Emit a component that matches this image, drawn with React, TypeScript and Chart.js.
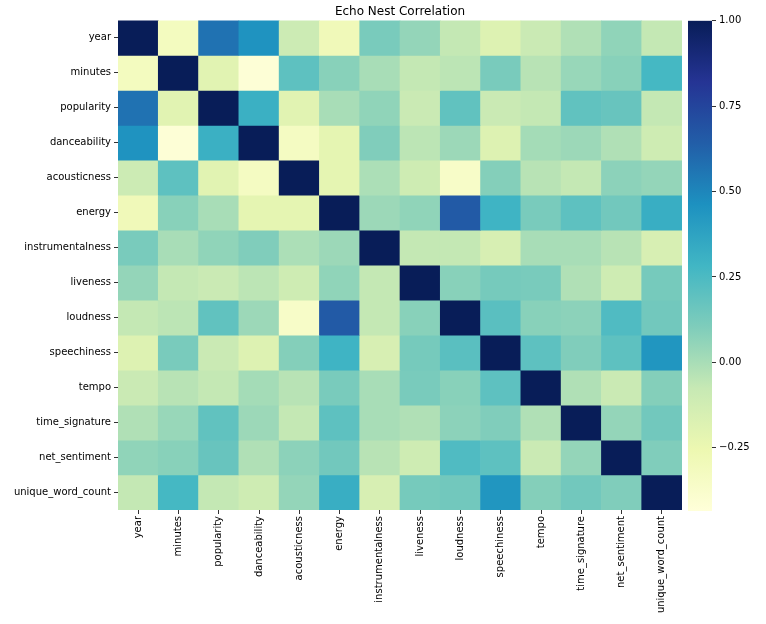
import React, { useEffect, useRef } from "react";
import { Chart, registerables } from "chart.js";
Chart.register(...registerables);

const chartTitle = "Echo Nest Correlation";
const labels = [
  "year", "minutes", "popularity", "danceability", "acousticness", "energy",
  "instrumentalness", "liveness", "loudness", "speechiness", "tempo",
  "time_signature", "net_sentiment", "unique_word_count",
];

const rowYear = [1.0, -0.32, 0.57, 0.45, -0.10, -0.29, 0.12, 0.05, -0.07, -0.18, -0.09, -0.02, 0.06, -0.07];
const rowMinutes = [-0.32, 1.0, -0.20, -0.42, 0.20, 0.08, 0.00, -0.07, -0.05, 0.12, -0.04, 0.04, 0.08, 0.27];
const rowPopularity = [0.57, -0.20, 1.0, 0.31, -0.20, 0.00, 0.06, -0.09, 0.19, -0.09, -0.07, 0.19, 0.17, -0.07];
const rowDanceability = [0.45, -0.42, 0.31, 1.0, -0.33, -0.22, 0.10, -0.05, 0.03, -0.18, 0.01, 0.03, -0.02, -0.11];
const rowAcousticness = [-0.10, 0.20, -0.20, -0.33, 1.0, -0.22, -0.01, -0.11, -0.36, 0.09, -0.04, -0.07, 0.07, 0.05];
const rowEnergy = [-0.29, 0.08, 0.00, -0.22, -0.22, 1.0, 0.03, 0.06, 0.66, 0.29, 0.12, 0.20, 0.14, 0.32];
const rowInstrumentalness = [0.12, 0.00, 0.06, 0.10, -0.01, 0.03, 1.0, -0.07, -0.07, -0.15, 0.00, 0.00, -0.04, -0.15];
const rowLiveness = [0.05, -0.07, -0.09, -0.05, -0.11, 0.06, -0.07, 1.0, 0.08, 0.13, 0.12, -0.02, -0.11, 0.13];
const rowLoudness = [-0.07, -0.05, 0.19, 0.03, -0.36, 0.66, -0.07, 0.08, 1.0, 0.21, 0.08, 0.07, 0.24, 0.14];
const rowSpeechiness = [-0.18, 0.12, -0.09, -0.18, 0.09, 0.29, -0.15, 0.13, 0.21, 1.0, 0.20, 0.10, 0.20, 0.44];
const rowTempo = [-0.09, -0.04, -0.07, 0.01, -0.04, 0.12, 0.00, 0.12, 0.08, 0.20, 1.0, -0.02, -0.09, 0.09];
const rowTimeSignature = [-0.02, 0.04, 0.19, 0.03, -0.07, 0.20, 0.00, -0.02, 0.07, 0.10, -0.02, 1.0, 0.05, 0.14];
const rowNetSentiment = [0.06, 0.08, 0.17, -0.02, 0.07, 0.14, -0.04, -0.11, 0.24, 0.20, -0.09, 0.05, 1.0, 0.10];
const rowUniqueWordCount = [-0.07, 0.27, -0.07, -0.11, 0.05, 0.32, -0.15, 0.13, 0.14, 0.44, 0.09, 0.14, 0.10, 1.0];

const matrix = [
  rowYear, rowMinutes, rowPopularity, rowDanceability, rowAcousticness, rowEnergy,
  rowInstrumentalness, rowLiveness, rowLoudness, rowSpeechiness, rowTempo,
  rowTimeSignature, rowNetSentiment, rowUniqueWordCount,
];

const vMin = -0.435;
const vMax = 1.0;
const colorbarRange = [vMin, vMax];
const colorbarTicks = [-0.25, 0, 0.25, 0.5, 0.75, 1.0];

const YLGNBU = ["#ffffd9", "#edf8b1", "#c7e9b4", "#7fcdbb", "#41b6c4", "#1d91c0", "#225ea8", "#253494", "#081d58"];

const FONT = "'DejaVu Sans', sans-serif";

function hexToRgb(h: string) {
  const n = parseInt(h.slice(1), 16);
  return [(n >> 16) & 255, (n >> 8) & 255, n & 255];
}

function cmap(v: number) {
  let t = (v - vMin) / (vMax - vMin);
  t = Math.max(0, Math.min(1, t));
  const pos = t * (YLGNBU.length - 1);
  const i = Math.min(Math.floor(pos), YLGNBU.length - 2);
  const f = pos - i;
  const a = hexToRgb(YLGNBU[i]);
  const b = hexToRgb(YLGNBU[i + 1]);
  const c = a.map((x, k) => Math.round(x + (b[k] - x) * f));
  return `rgb(${c[0]},${c[1]},${c[2]})`;
}

function fmtTick(v: number) {
  return v.toFixed(2).replace("-", "\u2212");
}

export default function App() {
  const heatRef = useRef<HTMLCanvasElement>(null);
  const barRef = useRef<HTMLCanvasElement>(null);

  useEffect(() => {
    document.body.style.margin = "0";
    const tickColor = "#333";
    const heat = new Chart(heatRef.current!, {
      type: "bar",
      data: {
        labels,
        datasets: matrix.map((row, j) => ({
          label: labels[j],
          data: row.map(() => 1),
          backgroundColor: row.map(cmap),
          borderWidth: 0,
          barPercentage: 1,
          categoryPercentage: 1,
        })),
      },
      options: {
        responsive: false,
        animation: false,
        layout: { padding: { left: 0, right: 8, top: 0, bottom: 0 } },
        plugins: {
          legend: { display: false },
          tooltip: { enabled: false },
          title: {
            display: true,
            text: chartTitle,
            color: "#000",
            fullSize: false,
            font: { family: FONT, size: 12, weight: "normal" },
            padding: { top: 5, bottom: 1 },
          },
        },
        scales: {
          x: {
            stacked: true,
            grid: { display: true, drawOnChartArea: false, drawTicks: true, tickLength: 4, offset: false, color: tickColor },
            border: { display: false },
            ticks: { minRotation: 90, maxRotation: 90, autoSkip: false, padding: 2, color: "#000", font: { family: FONT, size: 10 } },
            afterFit: (s: any) => { s.height = 114; },
          },
          y: {
            stacked: true,
            min: 0,
            max: labels.length,
            reverse: true,
            grid: { display: true, drawOnChartArea: false, drawTicks: true, tickLength: 4, color: tickColor },
            border: { display: false },
            afterBuildTicks: (s: any) => { s.ticks = labels.map((_, i) => ({ value: i + 0.5 })); },
            ticks: {
              autoSkip: false,
              padding: 3,
              color: "#000",
              font: { family: FONT, size: 10 },
              callback: (v: any) => labels[Math.floor(Number(v))],
            },
            afterFit: (s: any) => { s.width = 118; },
          },
        },
      } as any,
    });

    const bar = new Chart(barRef.current!, {
      type: "bar",
      data: {
        labels: [""],
        datasets: [{
          data: [colorbarRange as any],
          backgroundColor: (ctx: any) => {
            const ch = ctx.chart;
            const area = ch.chartArea;
            if (!area) return YLGNBU[0];
            const g = ch.ctx.createLinearGradient(0, area.bottom, 0, area.top);
            YLGNBU.forEach((c, i) => g.addColorStop(i / (YLGNBU.length - 1), c));
            return g;
          },
          borderWidth: 0,
          barPercentage: 1,
          categoryPercentage: 1,
        }],
      },
      options: {
        responsive: false,
        animation: false,
        layout: { padding: { left: 48, right: 0, top: 20.7, bottom: 113 } },
        plugins: { legend: { display: false }, tooltip: { enabled: false } },
        scales: {
          x: { display: false },
          y: {
            position: "right",
            min: vMin,
            max: vMax,
            grid: { display: true, drawOnChartArea: false, drawTicks: true, tickLength: 4, color: tickColor },
            border: { display: false },
            afterBuildTicks: (s: any) => { s.ticks = colorbarTicks.map((v) => ({ value: v })); },
            ticks: { padding: 3, color: "#000", font: { family: FONT, size: 10 }, callback: (v: any) => fmtTick(Number(v)) },
            afterFit: (s: any) => { s.width = 54; },
          },
        },
      } as any,
    });

    return () => { heat.destroy(); bar.destroy(); };
  }, []);

  return (
    <div style={{ position: "relative", width: 766, height: 624, background: "#fff" }}>
      <canvas ref={heatRef} width={690} height={624} style={{ position: "absolute", left: 0, top: 0, width: 690, height: 624 }} />
      <canvas ref={barRef} width={126} height={624} style={{ position: "absolute", left: 640, top: 0, width: 126, height: 624 }} />
    </div>
  );
}
